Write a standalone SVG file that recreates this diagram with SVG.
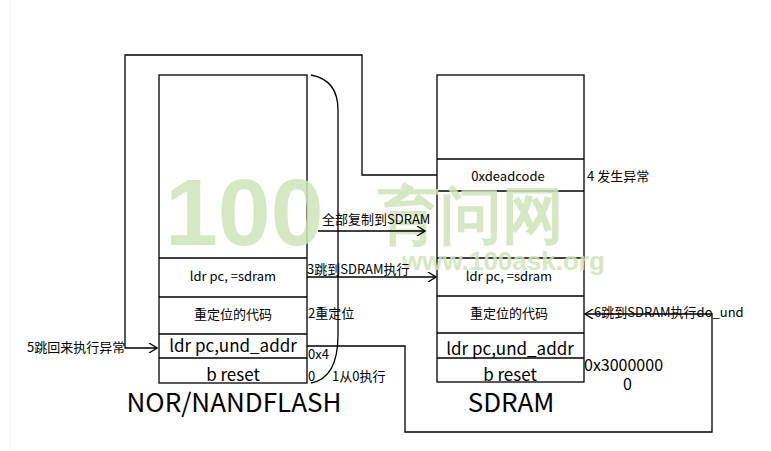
<svg xmlns="http://www.w3.org/2000/svg" width="771" height="451" viewBox="0 0 771 451">
<defs>
<style>
text{font-family:"Noto Sans CJK SC","Noto Sans",sans-serif;fill:#000}
.box{fill:#fff;stroke:#000;stroke-width:1.3}
.ln{stroke:#000;stroke-width:1.3;fill:none}
.c{text-anchor:middle;font-size:13px}
.s{font-size:13px}
.wm{fill:#cfe5b9;font-family:"Liberation Sans",sans-serif;font-weight:bold}
</style>
<marker id="ar" viewBox="0 0 10 10" refX="9" refY="5" markerWidth="10" markerHeight="10" orient="auto" markerUnits="userSpaceOnUse"><path d="M1,0 L9,5 L1,10" fill="none" stroke="#000" stroke-width="1.3"/></marker>
</defs>
<rect width="771" height="451" fill="#fff"/>
<line x1="10" y1="0" x2="10" y2="451" stroke="#eee"/>
<g id="nor">
<rect class="box" x="159" y="75" width="148" height="308"/>
<line class="ln" x1="159" y1="258" x2="307" y2="258"/>
<line class="ln" x1="159" y1="297" x2="307" y2="297"/>
<line class="ln" x1="159" y1="334" x2="307" y2="334"/>
<line class="ln" x1="159" y1="358" x2="307" y2="358"/>
<text class="c" x="233" y="281">ldr pc, =sdram</text>
<text class="c" x="233" y="319">重定位的代码</text>
<text x="233" y="352" text-anchor="middle" font-size="17">ldr pc,und_addr</text>
<text x="233" y="381" text-anchor="middle" font-size="17">b reset</text>
<text x="234" y="412" text-anchor="middle" font-size="26">NOR/NANDFLASH</text>
</g>
<g id="sdram">
<rect class="box" x="437" y="75" width="147" height="307"/>
<line class="ln" x1="437" y1="159" x2="584" y2="159"/>
<line class="ln" x1="437" y1="191" x2="584" y2="191"/>
<line class="ln" x1="437" y1="258" x2="584" y2="258"/>
<line class="ln" x1="437" y1="296" x2="584" y2="296"/>
<line class="ln" x1="437" y1="333" x2="584" y2="333"/>
<line class="ln" x1="437" y1="358" x2="584" y2="358"/>
<text class="c" x="508" y="181">0xdeadcode</text>
<text class="c" x="509" y="281">ldr pc, =sdram</text>
<text class="c" x="509" y="318">重定位的代码</text>
<text x="510" y="355" text-anchor="middle" font-size="17">ldr pc,und_addr</text>
<text x="510" y="381" text-anchor="middle" font-size="17">b reset</text>
<text x="511" y="412" text-anchor="middle" font-size="26">SDRAM</text>
</g>
<g id="watermark" opacity="0.85">
<text class="wm" x="165" y="245" font-size="95">100</text>
<text class="wm" x="378" y="237" font-size="62" font-family="Noto Sans CJK SC">育问网</text>
<text class="wm" x="402" y="270" font-size="26">www.100ask.org</text>
</g>
<g id="connectors">
<path class="ln" d="M437,175 H362 V55 H125 V348 H157" marker-end="url(#ar)"/>
<path class="ln" d="M311,75 Q338,80 338,110 V335 Q338,378 311,383"/>
<line class="ln" x1="318" y1="231" x2="425" y2="231" marker-end="url(#ar)"/>
<line class="ln" x1="307" y1="277" x2="436" y2="277" marker-end="url(#ar)"/>
<path class="ln" d="M307,346 H405 V432 H712 V314 H585" marker-end="url(#ar)"/>
</g>
<g id="labels">
<text class="s" x="27" y="352">5跳回来执行异常</text>
<text class="s" x="322" y="224">全部复制到SDRAM</text>
<text class="s" x="307" y="274">3跳到SDRAM执行</text>
<text class="s" x="308" y="318">2重定位</text>
<text class="s" x="308" y="359">0x4</text>
<text class="s" x="308" y="381">0</text>
<text class="s" x="332" y="381">1从0执行</text>
<text class="s" x="587" y="181">4 发生异常</text>
<text class="s" x="594" y="317">6跳到SDRAM执行do_und</text>
<text x="584" y="371" font-size="16">0x3000000</text>
<text x="623" y="390" font-size="16">0</text>
</g>
</svg>
